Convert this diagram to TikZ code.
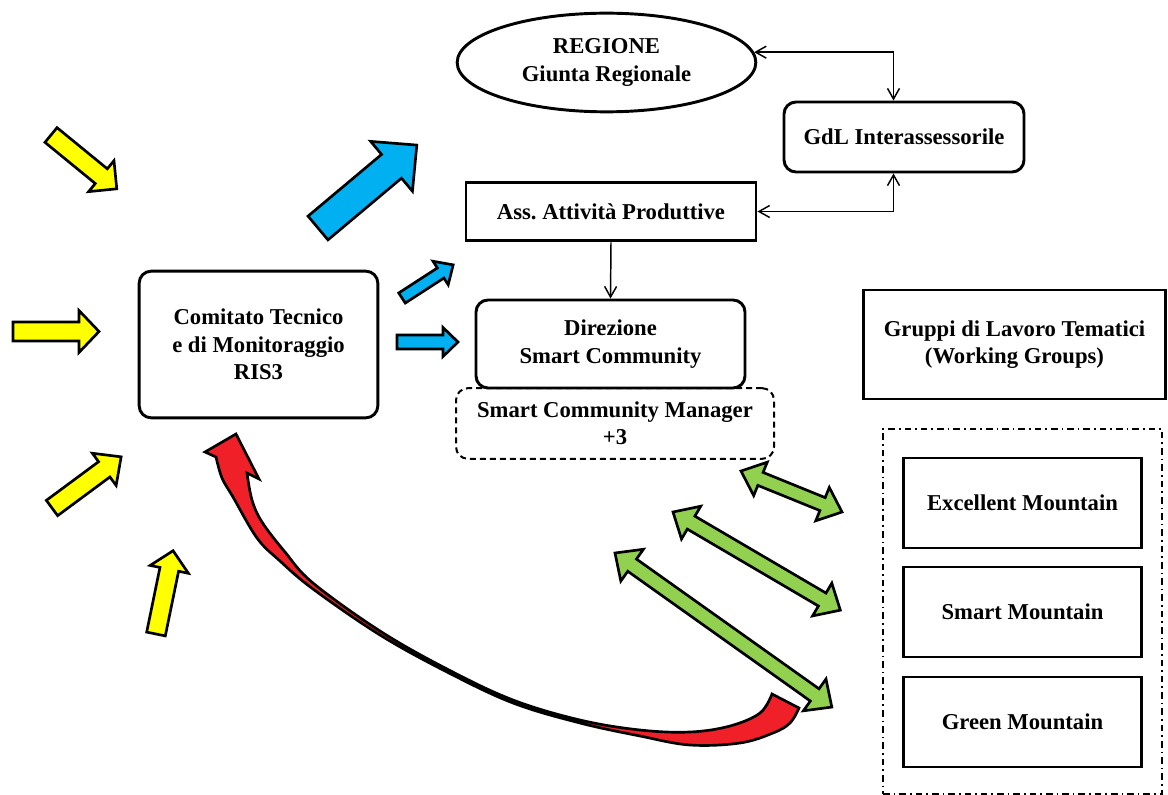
\documentclass[tikz,border=0pt]{standalone}
\usepackage{fontspec}
\setmainfont{Liberation Serif}
\usetikzlibrary{arrows.meta,shapes.geometric,calc}

\definecolor{arrowyellow}{RGB}{255,255,0}
\definecolor{arrowblue}{RGB}{0,176,240}
\definecolor{arrowgreen}{RGB}{146,208,80}
\definecolor{arrowred}{RGB}{240,32,40}

\tikzset{every picture/.style={line width=0.75pt}}
\tikzset{
	labelfont/.style={font=\fontsize{17pt}{20.6pt}\selectfont\bfseries},
	roundbox/.style={draw, line width=2.2pt, rounded corners=9pt, align=center, labelfont},
	squarebox/.style={draw, line width=2.2pt, align=center, labelfont},
	dashbox/.style={draw, line width=1.5pt, dash pattern=on 4.5pt off 3pt, rounded corners=9pt, align=center, labelfont},
	groupbox/.style={draw, line width=1.5pt, dash pattern=on 5pt off 3pt on 1.2pt off 3pt},
	link/.style={line width=1.1pt},
	blockline/.style={draw=black, line width=2pt, line join=miter},
	>={Straight Barb[length=8pt,width=9pt]}}

% block arrow: colour, tail, angle, length, shaft half width, head half width, head length
\newcommand{\blockarrow}[7]{%
	\draw[blockline, fill=#1, shift={(#2)}, rotate=#3] (0,-#5) -- ({#4-#7},-#5) -- ({#4-#7},-#6) -- (#4,0) -- ({#4-#7},#6) -- ({#4-#7},#5) -- (0,#5) -- cycle ;}
% double block arrow: colour, first tip, angle, length, shaft half width, head half width
\newcommand{\doublearrow}[6]{%
	\draw[blockline, fill=#1, shift={(#2)}, rotate=#3] (0,0) -- (21,-#6) -- (21,-#5) -- ({#4-21},-#5) -- ({#4-21},-#6) -- (#4,0) -- ({#4-21},#6) -- ({#4-21},#5) -- (21,#5) -- (21,#6) -- cycle ;}

\begin{document}
\begin{tikzpicture}[x=0.75pt,y=0.75pt,yscale=-1,xscale=1]
	\useasboundingbox (0,0) rectangle (1168,795);
	
	%Shape: Rounded Rect
	\node[roundbox, minimum width=179pt, minimum height=110pt] (ctm) at (258.5,344.5) {Comitato Tecnico\\e di Monitoraggio\\RIS3};
	%Shape: Ellipse
	\node[ellipse, draw, line width=2.2pt, inner sep=0pt, minimum width=224pt, minimum height=74pt, align=center, labelfont] (reg) at (606.5,62.5) {REGIONE\\Giunta Regionale};
	%Shape: Rounded Rect
	\node[roundbox, minimum width=180pt, minimum height=52.5pt] (gdl) at (904,137) {GdL Interassessorile};
	%Shape: Rectangle
	\node[squarebox, minimum width=217.5pt, minimum height=44pt] (ass) at (611,211.5) {Ass.\ Attività Produttive};
	%Shape: Rounded Rect
	\node[roundbox, minimum width=201.75pt, minimum height=66pt] (dir) at (610.5,344) {Direzione\\Smart Community};
	%Shape: Rounded Rect
	\node[dashbox, minimum width=238.5pt, minimum height=53pt] (scm) at (615,423.5) {Smart Community Manager\\+3};
	%Shape: Rectangle
	\node[squarebox, minimum width=227pt, minimum height=81.75pt] (wg) at (1014.5,344.5) {Gruppi di Lavoro Tematici\\(Working Groups)};
	%Shape: Rectangle
	\node[groupbox, minimum width=209pt, minimum height=274pt] (grp) at (1022.5,611.5) {};
	\node[squarebox, minimum width=179pt, minimum height=67.5pt] (exc) at (1022.5,503) {Excellent Mountain};
	\node[squarebox, minimum width=179pt, minimum height=67.5pt] (sma) at (1022.5,612) {Smart Mountain};
	\node[squarebox, minimum width=179pt, minimum height=67.5pt] (gre) at (1022.5,722) {Green Mountain};
	
	%Straight Lines
	\draw[link,<->] (reg.4) -| ($(gdl.north)+(-10.5,0)$) ;
	\draw[link,<->] (ass.east) -| ($(gdl.south)+(-10.5,0)$) ;
	\draw[link,->] (ass.south) -- (dir.north) ;
	
	%Right Arrow (yellow)
	\blockarrow{arrowyellow}{51,135}{39.3}{85}{9.5}{20}{20}
	\blockarrow{arrowyellow}{13,331.5}{0}{86}{9.5}{21}{20}
	\blockarrow{arrowyellow}{52,508}{-36.5}{86}{9.5}{20}{21}
	\blockarrow{arrowyellow}{156,634}{-78.4}{85}{9.5}{19.5}{19}
	%Right Arrow (blue)
	\blockarrow{arrowblue}{318,228}{-40}{129}{15.5}{32.5}{33}
	\blockarrow{arrowblue}{402,298}{-32.9}{61}{6}{14}{15}
	\blockarrow{arrowblue}{397,342}{0}{61}{7}{14.5}{15}
	%Left-Right Arrow (green)
	\doublearrow{arrowgreen}{741,471}{22.1}{109}{7}{18}
	\doublearrow{arrowgreen}{673,512}{30.4}{194}{7.5}{19}
	\doublearrow{arrowgreen}{615,553}{35.4}{266}{7.5}{19.5}
	
	%Curved Arrow (red)
	\draw[blockline, fill=arrowred] (236,434) -- (259,479) -- (247,473)
		-- plot[smooth, tension=0.6] coordinates {(247,473) (252,500) (262,522) (285,552) (313,583) (380,631) (447,669) (513,700) (580,720) (640,730) (690,732) (730,726) (760,713) (772,694)}
		-- (799,708)
		-- plot[smooth, tension=0.6] coordinates {(799,708) (790,723) (773,733) (740,743) (690,745) (640,736) (580,723) (513,703) (447,672) (380,635) (313,589) (280,561) (257,538) (233,497) (222,478) (216,457)}
		-- (205,452) -- cycle ;
	
\end{tikzpicture}
\end{document}
